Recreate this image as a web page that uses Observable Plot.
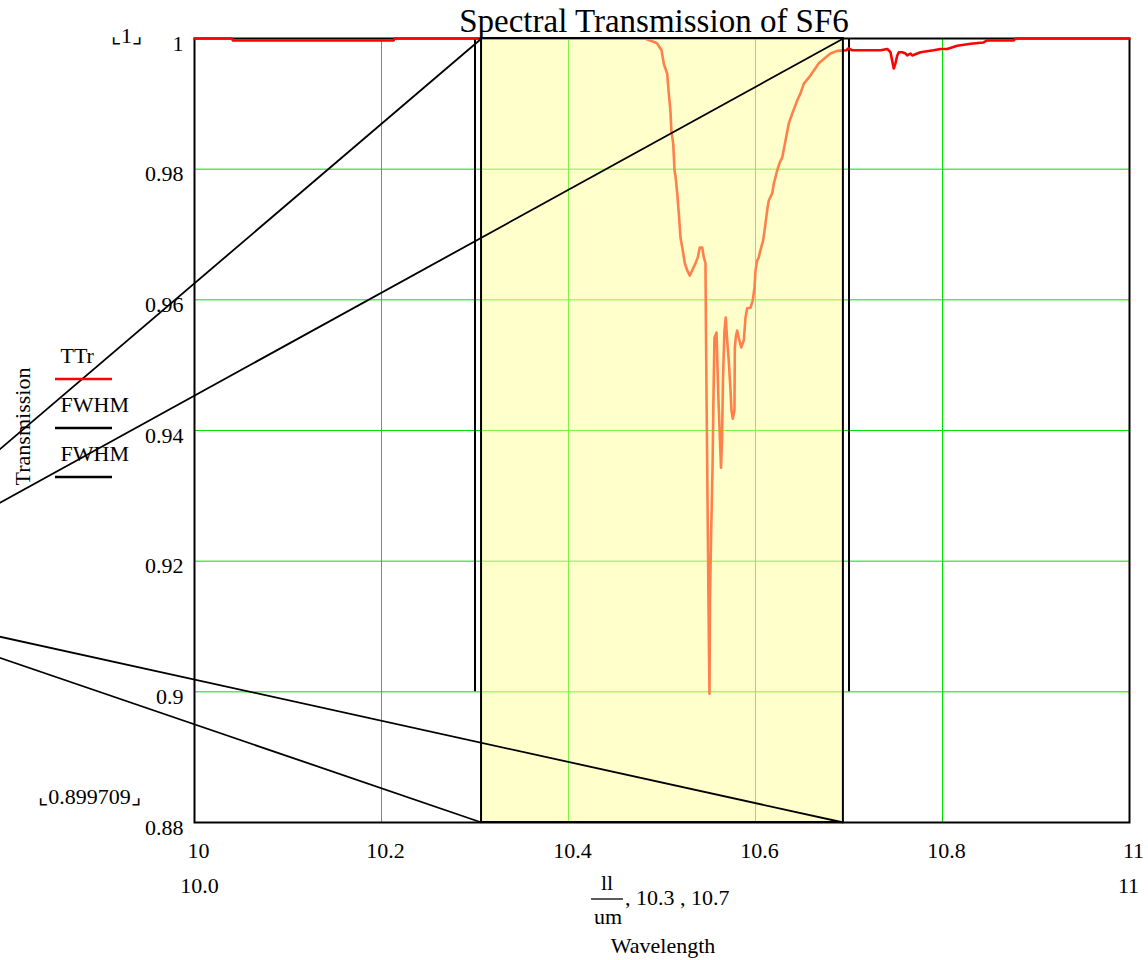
<!DOCTYPE html>
<html>
<head>
<meta charset="utf-8">
<script src="https://cdn.jsdelivr.net/npm/d3@7"></script>
<script src="https://cdn.jsdelivr.net/npm/@observablehq/plot@0.6"></script>
<style>
  html, body { margin: 0; padding: 0; background: #fff; }
  #chart svg { display: block; }
</style>
</head>
<body>
<div id="chart"></div>
<script>
// ---------- data ----------
const ttrWavelength = [
  10.000, 10.040, 10.041, 10.213, 10.214, 10.482, 10.485, 10.493, 10.495, 10.4995,
  10.502, 10.5056, 10.5073, 10.509, 10.510, 10.512, 10.5134, 10.5144, 10.5163, 10.518,
  10.5198, 10.5222, 10.5244, 10.527, 10.5297, 10.5323, 10.5358, 10.5383, 10.5404, 10.543,
  10.5447, 10.5465, 10.547, 10.5487, 10.5501, 10.5508, 10.5513, 10.5524, 10.554, 10.555,
  10.5561, 10.5583, 10.5604, 10.5631, 10.5642, 10.5652, 10.5668, 10.5682, 10.5697, 10.5714,
  10.5733, 10.5743, 10.5757, 10.5775, 10.5779, 10.5791, 10.5804, 10.5821, 10.5847, 10.5875,
  10.5893, 10.5911, 10.5947, 10.5971, 10.5989, 10.6000, 10.6018, 10.6035, 10.6053, 10.6082,
  10.6107, 10.6125, 10.6142, 10.6179, 10.6196, 10.6232, 10.6256, 10.6286, 10.6321, 10.6356,
  10.6393, 10.6446, 10.6481, 10.6517, 10.657, 10.6624, 10.6677, 10.6749, 10.6802, 10.6874,
  10.6973, 10.6995, 10.7034, 10.7337, 10.7409, 10.7444, 10.7462, 10.7479, 10.7497, 10.7516,
  10.7533, 10.7569, 10.7604, 10.7622, 10.7658, 10.7676, 10.773, 10.7765, 10.7904, 10.7979,
  10.805, 10.8157, 10.83, 10.8439, 10.8478, 10.8759, 10.8781, 11.000
];
const ttrTransmission = [
  1.0000, 1.0000, 0.9997, 0.9997, 1.0000, 1.0000, 0.9998, 0.9994, 0.9992, 0.9982,
  0.9961, 0.9946, 0.9915, 0.9890, 0.9859, 0.9839, 0.9798, 0.9790, 0.9763, 0.9732,
  0.9695, 0.9676, 0.9656, 0.9645, 0.9637, 0.9645, 0.9656, 0.9665, 0.9680, 0.9680,
  0.9665, 0.9656, 0.9553, 0.9293, 0.9079, 0.8997, 0.9140, 0.9232, 0.9339, 0.9446,
  0.9542, 0.9550, 0.9446, 0.9343, 0.9385, 0.9477, 0.9553, 0.9573, 0.9538, 0.9507,
  0.9461, 0.9431, 0.9418, 0.9431, 0.9527, 0.9545, 0.9553, 0.9542, 0.9527, 0.9538,
  0.9573, 0.9587, 0.9588, 0.9599, 0.9619, 0.9645, 0.9660, 0.9665, 0.9676, 0.9691,
  0.9717, 0.9737, 0.9752, 0.9763, 0.9778, 0.9798, 0.9809, 0.9818, 0.9844, 0.9870,
  0.9885, 0.9905, 0.9916, 0.9931, 0.9940, 0.9951, 0.9962, 0.9971, 0.9977, 0.9981,
  0.9982, 0.9985, 0.9982, 0.9982, 0.9984, 0.9979, 0.9966, 0.9954, 0.9962, 0.9974,
  0.9979, 0.9979, 0.9977, 0.9974, 0.9977, 0.9974, 0.9977, 0.9979, 0.9982, 0.9984,
  0.9984, 0.9989, 0.9992, 0.9994, 0.9997, 0.9997, 1.0000, 1.0000
];

// FWHM markers (vertical traces at 10.3 and 10.7)
const fwhmWavelength = [10.3, 10.7];
const fwhmLow = 0.9;
const fwhmHigh = 1.0;

// highlighted band
const bandStart = 10.307;
const bandEnd = 10.694;
const bandLow = 0.88;
const bandHigh = 1.0;

// stray FWHM trace segments running off to the left
const diagFromX = [10.307, 10.694, 10.307, 10.694];
const diagFromY = [1.0, 1.0, 0.88, 0.88];
const diagToX   = [9.79, 9.79, 9.79, 9.79];
const diagToY   = [0.9369, 0.9288, 0.9053, 0.9085];

// axes
const xTicks = [10, 10.2, 10.4, 10.6, 10.8, 11];
const xTickLabels = ["10", "10.2", "10.4", "10.6", "10.8", "11"];
const yTicks = [0.88, 0.9, 0.92, 0.94, 0.96, 0.98, 1];
const yTickLabels = ["0.88", "0.9", "0.92", "0.94", "0.96", "0.98", "1"];
const xGrid = [10.2, 10.4, 10.6, 10.8];
const yGrid = [0.9, 0.92, 0.94, 0.96, 0.98];

const titleText = "Spectral Transmission of SF6";
const yLabelText = "Transmission";
const xLabelText = "Wavelength";
const legendNames = ["TTr", "FWHM", "FWHM"];
const legendColors = ["#ff0000", "#000000", "#000000"];
const yLimitTop = "⌞1⌟";
const yLimitBottom = "⌞0.899709⌟";
const xLimitLeft = "10.0";
const xLimitRight = "11";

// ---------- build tables ----------
const ttr = ttrWavelength.map((w, i) => ({w, t: ttrTransmission[i]}));
const band = [{x1: bandStart, x2: bandEnd, y1: bandLow, y2: bandHigh}];
const diags = diagFromX.map((x, i) => ({x1: x, y1: diagFromY[i], x2: diagToX[i], y2: diagToY[i]}));
const fwhm = fwhmWavelength.map(w => ({w, lo: fwhmLow, hi: fwhmHigh}));

const serif = "'Liberation Serif', 'Times New Roman', 'DejaVu Serif', serif";
const fs = 22;

const legendMarks = legendNames.map((name, i) =>
  Plot.text([name], {frameAnchor: "top-left", textAnchor: "start", lineAnchor: "middle", dx: -134, dy: 317 + i * 49, fontSize: fs, fill: "black"})
);

const plot = Plot.plot({
  width: 1148,
  height: 960,
  marginLeft: 194,
  marginRight: 19,
  marginTop: 38,
  marginBottom: 138,
  style: {fontFamily: serif, fontSize: fs + "px", color: "black", background: "white"},
  x: {domain: [10, 11]},
  y: {domain: [0.88, 1]},
  marks: [
    Plot.gridX(xGrid, {stroke: "#00e000", strokeOpacity: 1, strokeWidth: 1}),
    Plot.gridY(yGrid, {stroke: "#00e000", strokeOpacity: 1, strokeWidth: 1}),
    Plot.frame({stroke: "black", strokeWidth: 2}),
    Plot.ruleX(fwhm, {x: "w", y1: "lo", y2: "hi", stroke: "black", strokeWidth: 2}),
    Plot.line(ttr, {x: "w", y: "t", stroke: "#ff0000", strokeWidth: 2.6, strokeLinejoin: "round"}),
    Plot.rect(band, {x1: "x1", x2: "x2", y1: "y1", y2: "y2", fill: "#ffff99", fillOpacity: 0.5, stroke: "black", strokeWidth: 2}),
    Plot.link(diags, {x1: "x1", y1: "y1", x2: "x2", y2: "y2", stroke: "black", strokeWidth: 1.8}),
    Plot.axisX({ticks: xTicks, tickFormat: (d, i) => xTickLabels[i], tickSize: 0, tickPadding: 20, dx: 4, fontSize: fs, label: null}),
    Plot.axisY({ticks: yTicks, tickFormat: (d, i) => yTickLabels[i], tickSize: 0, tickPadding: 11, dy: 5, fontSize: fs, label: null}),
    // title
    Plot.text([titleText], {frameAnchor: "top", textAnchor: "middle", dx: -8, dy: -30, fontSize: 33, fill: "black"}),
    // y axis label
    Plot.text([yLabelText], {frameAnchor: "top-left", textAnchor: "middle", rotate: -90, dx: -180, dy: 388, fontSize: fs, fill: "black"}),
    // axis limit labels
    Plot.text([yLimitTop], {frameAnchor: "top-left", textAnchor: "middle", lineAnchor: "middle", dx: -68, dy: -3, fontSize: fs, fill: "black"}),
    Plot.text([yLimitBottom], {frameAnchor: "bottom-left", textAnchor: "middle", lineAnchor: "middle", dx: -105, dy: -26, fontSize: fs, fill: "black"}),
    Plot.text([xLimitLeft], {frameAnchor: "bottom-left", textAnchor: "middle", lineAnchor: "middle", dx: 5, dy: 63, fontSize: fs, fill: "black"}),
    Plot.text([xLimitRight], {frameAnchor: "bottom-right", textAnchor: "middle", lineAnchor: "middle", dx: -1, dy: 63, fontSize: fs, fill: "black"}),
    // legend names
    ...legendMarks,
    // x axis expression
    Plot.text(["ll"], {frameAnchor: "bottom", textAnchor: "middle", dx: -55, dy: 67, fontSize: fs, fill: "black"}),
    Plot.text(["um"], {frameAnchor: "bottom", textAnchor: "middle", dx: -54, dy: 101, fontSize: fs, fill: "black"}),
    Plot.text([", 10.3 , 10.7"], {frameAnchor: "bottom", textAnchor: "start", dx: -37, dy: 82, fontSize: fs, fill: "black"}),
    Plot.text([xLabelText], {frameAnchor: "bottom", textAnchor: "middle", dx: 1, dy: 130, fontSize: fs, fill: "black"})
  ]
});

document.getElementById("chart").appendChild(plot);

// legend swatches and the fraction bar (decoration in the margins)
const svg = d3.select(plot);
legendColors.forEach((c, i) => {
  svg.append("line")
    .attr("x1", 55).attr("x2", 112)
    .attr("y1", 379 + i * 49).attr("y2", 379 + i * 49)
    .attr("stroke", c).attr("stroke-width", 2.6);
});
svg.append("line")
  .attr("x1", 591).attr("x2", 623)
  .attr("y1", 899).attr("y2", 899)
  .attr("stroke", "black").attr("stroke-width", 1.3);
</script>
</body>
</html>
